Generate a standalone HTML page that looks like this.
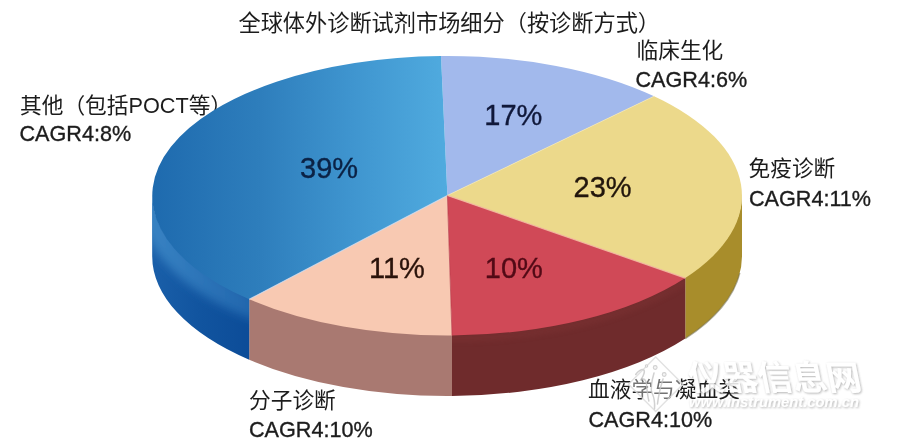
<!DOCTYPE html>
<html lang="zh"><head><meta charset="utf-8"><title>全球体外诊断试剂市场细分（按诊断方式）</title>
<style>
html,body{margin:0;padding:0;background:#fff}
body{width:900px;height:445px;position:relative;overflow:hidden;font-family:"Liberation Sans",sans-serif}
svg{position:absolute;left:0;top:0;display:block;filter:blur(.45px)}
svg text{font-family:"Liberation Sans","Noto Sans CJK SC",sans-serif}
.sr{position:absolute;width:1px;height:1px;margin:-1px;padding:0;overflow:hidden;clip:rect(0 0 0 0);white-space:nowrap;border:0}
</style></head><body>
<svg width="900" height="445" viewBox="0 0 900 445" role="img">
<title>全球体外诊断试剂市场细分（按诊断方式）</title>
<defs>
<linearGradient id="gbl" gradientUnits="userSpaceOnUse" x1="151" y1="0" x2="447" y2="0">
<stop offset="0" stop-color="#1e6aae"/><stop offset="0.37" stop-color="#2e7ebc"/><stop offset="0.68" stop-color="#3f95cf"/><stop offset="1" stop-color="#50abdf"/></linearGradient>
<linearGradient id="gblw" gradientUnits="userSpaceOnUse" x1="151" y1="0" x2="250" y2="0">
<stop offset="0" stop-color="#1a5fa9"/><stop offset="0.5" stop-color="#11549f"/><stop offset="1" stop-color="#0c4c98"/></linearGradient>
<filter id="wms" x="-5%" y="-20%" width="110%" height="150%"><feDropShadow dx="0.9" dy="1" stdDeviation="0.9" flood-color="#8c8c8c" flood-opacity=".75"/></filter>
<linearGradient id="ghl" gradientUnits="userSpaceOnUse" x1="151" y1="0" x2="255" y2="0"><stop offset="0" stop-color="#4390cc" stop-opacity=".72"/><stop offset="1" stop-color="#3f8ccc" stop-opacity=".4"/></linearGradient>
<filter id="bl3" x="-5%" y="-20%" width="110%" height="140%"><feGaussianBlur stdDeviation="3"/></filter>
<filter id="bl5" x="-10%" y="-20%" width="120%" height="140%"><feGaussianBlur stdDeviation="5"/></filter>
</defs>
<g id="labels" fill="#1c1c1c">
<text x="238.5" y="31" font-size="22.2">全球体外诊断试剂市场细分（按诊断方式）</text>
<text x="20" y="113" font-size="21.7">其他（包括POCT等）</text>
<text x="19.5" y="141.2" font-size="21.6" stroke="#1c1c1c" stroke-width=".35">CAGR4:8%</text>
<text x="636.5" y="58.3" font-size="21.7">临床生化</text>
<text x="635.5" y="87" font-size="21.6" stroke="#1c1c1c" stroke-width=".35">CAGR4:6%</text>
<text x="748.5" y="175.8" font-size="21.7">免疫诊断</text>
<text x="749" y="205.8" font-size="21.6" stroke="#1c1c1c" stroke-width=".35">CAGR4:11%</text>
<text x="249" y="408.3" font-size="21.7">分子诊断</text>
<text x="249" y="437" font-size="21.6" stroke="#1c1c1c" stroke-width=".35">CAGR4:10%</text>
<text x="588" y="397.2" font-size="21.7">血液学与凝血类</text>
<text x="588.5" y="426.6" font-size="21.6" stroke="#1c1c1c" stroke-width=".35">CAGR4:10%</text>
</g>
<g id="walls">
<clipPath id="cwb"><path d="M249.2 298.1A294.9 139.75 0 0 1 152.2 194.6L152.2 256.2A294.9 139.75 0 0 0 249.2 359.8Z"/></clipPath><clipPath id="cwr"><path d="M685.3 276.9A294.9 139.75 0 0 1 452.0 334.3L452.0 396.0A294.9 139.75 0 0 0 685.3 338.6Z"/></clipPath>
<path d="M742.0 194.6A294.9 139.75 0 0 1 685.3 276.9L685.3 338.6A294.9 139.75 0 0 0 742.0 256.2Z" fill="#a88d2b"/>
<path d="M685.3 276.9A294.9 139.75 0 0 1 452.0 334.3L452.0 396.0A294.9 139.75 0 0 0 685.3 338.6Z" fill="#6f2b2c"/>
<path d="M452.0 334.3A294.9 139.75 0 0 1 249.2 298.1L249.2 359.8A294.9 139.75 0 0 0 452.0 396.0Z" fill="#a97971"/>
<path d="M249.2 298.1A294.9 139.75 0 0 1 152.2 194.6L152.2 256.2A294.9 139.75 0 0 0 249.2 359.8Z" fill="url(#gblw)"/>
<path d="M739.9 273.0A294.9 139.75 0 0 1 685.3 338.6" fill="none" stroke="#6f6a4a" stroke-opacity=".55" stroke-width="1.3"/>
<g clip-path="url(#cwb)"><path filter="url(#bl5)" d="M152.2 165.8L152.2 201.8A294.9 139.75 0 0 0 447.1 341.5" fill="none" stroke="url(#ghl)" stroke-width="24"/></g>
<g clip-path="url(#cwr)"><path filter="url(#bl3)" d="M152.2 198.8A294.9 139.75 0 0 0 742.0 198.8" fill="none" stroke="#a04a4a" stroke-width="5" opacity=".22"/></g>
</g>
<g id="tops">
<path d="M447.4 195.4L441.0 56.0A294.9 139.75 0 0 1 654.1 96.2Z" fill="#a2b9ec"/>
<path d="M447.4 195.4L654.1 96.2A294.9 139.75 0 0 1 685.3 278.1Z" fill="#ecd98b"/>
<path d="M447.4 195.4L685.3 278.1A294.9 139.75 0 0 1 452.0 335.5Z" fill="#d04957"/>
<path d="M447.4 195.4L452.0 335.5A294.9 139.75 0 0 1 249.2 299.3Z" fill="#f8c9b2"/>
<path d="M447.4 195.4L249.2 299.3A294.9 139.75 0 0 1 441.0 56.0Z" fill="url(#gbl)"/>
<path d="M447.4 195.4L249.2 299.3" stroke="#d6dbea" stroke-width="1.1" stroke-opacity="0.8" fill="none"/>
<path d="M447.4 195.4L685.3 278.1" stroke="#f3b9a0" stroke-width="1.2" stroke-opacity="0.9" fill="none"/>
<path d="M447.4 195.4L452.0 335.5" stroke="#b83a48" stroke-width="1.0" stroke-opacity="0.7" fill="none"/>
<path d="M447.4 195.4L654.1 96.2" stroke="#f4e7b4" stroke-width="1.0" stroke-opacity="0.7" fill="none"/>
</g>
<g id="watermark" opacity=".85">
<path d="M655.7 357.0L682.9000000000001 384.2L655.7 411.4L628.5 384.2Z" fill="#fff" fill-opacity=".45" stroke="#dcdcdc" stroke-width="1.4"/>
<g fill="none" stroke="#c9c9c9" stroke-width="1.5" stroke-linecap="round"><path d="M635.7 374.5C638 371 641.5 369 643.3 369.6C645.5 370.5 644 375 641.2 379.4C644 378 646 380 646.5 384C647 390 647.5 396 648.9 401"/><path d="M654 373C652 380 650 388 652 393C654 397 655 403 654.5 409"/><path d="M663 379C661 385 659.5 391 658.5 397C658 400 657.8 402 657.5 404"/></g><g fill="#f4f4f4" stroke="#c9c9c9" stroke-width="1.1"><circle cx="655.2" cy="367.5" r="1.9"/><circle cx="664.2" cy="374.5" r="1.9"/><circle cx="646.5" cy="366" r="1.2"/></g>
<g filter="url(#wms)">
<text transform="translate(691,389.5) skewX(11.3)" x="0" y="0" font-size="34.5" font-weight="bold" fill="#fff">仪器信息网</text>
<text x="689" y="407.3" font-size="14" font-weight="bold" font-style="italic" fill="#fff" textLength="170" lengthAdjust="spacingAndGlyphs">www.instrument.com.cn</text>
</g>
</g>
<g id="pct">
<text x="300" y="178" font-size="29" fill="#0b2245" stroke="#0b2245" stroke-width=".35">39%</text>
<text x="484.3" y="125.3" font-size="29" fill="#10183a" stroke="#10183a" stroke-width=".35">17%</text>
<text x="573.5" y="197.1" font-size="29" fill="#22160c" stroke="#22160c" stroke-width=".35">23%</text>
<text x="369" y="277.8" font-size="29" fill="#2a120a" stroke="#2a120a" stroke-width=".35">11%</text>
<text x="484.8" y="277.8" font-size="29" fill="#520a16" stroke="#520a16" stroke-width=".35">10%</text>
</g>
</svg>
<div class="sr">
<h1>全球体外诊断试剂市场细分（按诊断方式）</h1>
<ul>
<li>其他（包括POCT等） CAGR4:8% 39%</li>
<li>临床生化 CAGR4:6% 17%</li>
<li>免疫诊断 CAGR4:11% 23%</li>
<li>血液学与凝血类 CAGR4:10% 10%</li>
<li>分子诊断 CAGR4:10% 11%</li>
</ul>
<p>仪器信息网 www.instrument.com.cn</p>
</div>
</body></html>
